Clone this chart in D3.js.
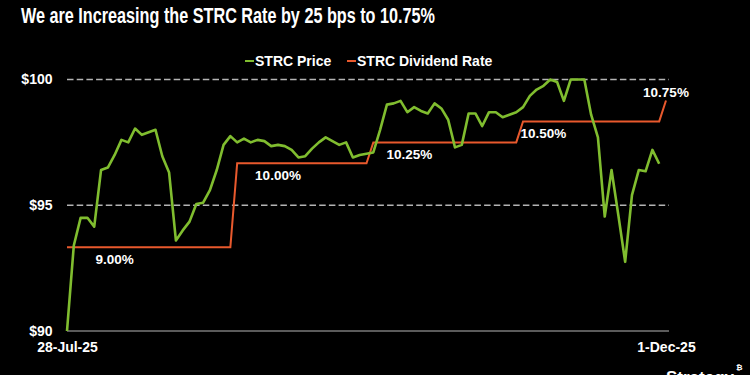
<!DOCTYPE html>
<html>
<head>
<meta charset="utf-8">
<script src="https://cdnjs.cloudflare.com/ajax/libs/d3/7.8.5/d3.min.js"></script>
<style>
body { margin: 0; background: #000; }
svg { display: block; font-family: "Liberation Sans", Arial, sans-serif; }
</style>
</head>
<body>
<div id="chart"></div>
<script>
// trading days, 28-Jul-25 .. 1-Dec-25
var days = [
  "2025-07-28","2025-07-29","2025-07-30","2025-07-31",
  "2025-08-01","2025-08-04","2025-08-05","2025-08-06","2025-08-07","2025-08-08","2025-08-11","2025-08-12","2025-08-13","2025-08-14","2025-08-15",
  "2025-08-18","2025-08-19","2025-08-20","2025-08-21","2025-08-22","2025-08-25","2025-08-26","2025-08-27","2025-08-28","2025-08-29",
  "2025-09-02","2025-09-03","2025-09-04","2025-09-05","2025-09-08","2025-09-09","2025-09-10","2025-09-11","2025-09-12","2025-09-15",
  "2025-09-16","2025-09-17","2025-09-18","2025-09-19","2025-09-22","2025-09-23","2025-09-24","2025-09-25","2025-09-26","2025-09-29","2025-09-30",
  "2025-10-01","2025-10-02","2025-10-03","2025-10-06","2025-10-07","2025-10-08","2025-10-09","2025-10-10","2025-10-13","2025-10-14","2025-10-15",
  "2025-10-16","2025-10-17","2025-10-20","2025-10-21","2025-10-22","2025-10-23","2025-10-24","2025-10-27","2025-10-28","2025-10-29","2025-10-30","2025-10-31",
  "2025-11-03","2025-11-04","2025-11-05","2025-11-06","2025-11-07","2025-11-10","2025-11-11","2025-11-12","2025-11-13","2025-11-14",
  "2025-11-17","2025-11-18","2025-11-19","2025-11-20","2025-11-21","2025-11-24","2025-11-25","2025-11-26","2025-11-28",
  "2025-12-01"
];

// STRC price, one per trading day (last day has no price)
var price = [
  90.0, 93.4, 94.5, 94.5, 94.15, 96.4, 96.5, 97.0, 97.6, 97.5,
  98.05, 97.8, 97.9, 98.0, 96.95, 96.3, 93.6, 94.0, 94.35, 95.05,
  95.1, 95.6, 96.4, 97.4, 97.75, 97.5, 97.65, 97.5, 97.6, 97.55,
  97.35, 97.4, 97.35, 97.2, 96.9, 96.95, 97.25, 97.5, 97.7, 97.55,
  97.4, 97.5, 96.9, 97.0, 97.05, 97.1, 98.0, 99.0, 99.05, 99.15,
  98.7, 98.9, 98.75, 98.65, 99.05, 98.85, 98.4, 97.3, 97.4, 98.65,
  98.65, 98.15, 98.7, 98.7, 98.5, 98.6, 98.7, 98.9, 99.35, 99.6,
  99.75, 100.0, 99.9, 99.15, 100.0, 100.0, 100.0, 98.6, 97.7, 94.55,
  96.4, 94.6, 92.75, 95.4, 96.4, 96.35, 97.2, 96.65
];

// dividend rate corners
var rateDays = ["2025-07-28","2025-08-29","2025-09-02","2025-09-29","2025-09-30","2025-10-29","2025-10-30","2025-11-28","2025-12-01"];
var rateValues = [9.00, 9.00, 10.00, 10.00, 10.25, 10.25, 10.50, 10.50, 10.75];

// rate labels
var labelText = ["9.00%", "10.00%", "10.25%", "10.50%", "10.75%"];
var labelDays = ["2025-08-06", "2025-09-10", "2025-10-07", "2025-11-04", "2025-12-01"];
var labelRates = [9.00, 10.00, 10.25, 10.50, 10.75];

var priceTicks = [90, 95, 100];
var gridTicks = [95, 100];

var green = "#80bd2f";
var orange = "#e8592d";

var W = 750, H = 375;
var margin = {top: 79.5, left: 67, bottom: 44, right: 81};
var width = W - margin.left - margin.right;   // 602
var height = H - margin.top - margin.bottom;  // 251.5

var svg = d3.select("#chart").append("svg")
  .attr("width", W)
  .attr("height", H)
  .style("background", "#000");

svg.append("text")
  .attr("x", 21)
  .attr("y", 23)
  .attr("fill", "#fff")
  .attr("font-size", 22.5)
  .attr("font-weight", "bold")
  .attr("textLength", 414)
  .attr("lengthAdjust", "spacingAndGlyphs")
  .text("We are Increasing the STRC Rate by 25 bps to 10.75%");

var g = svg.append("g")
  .attr("transform", "translate(" + margin.left + "," + margin.top + ")");

var x = d3.scalePoint().domain(days).range([0, width - 3]);
var y = d3.scaleLinear().domain([90, 100]).range([height, 0]);
var yRate = d3.scaleLinear().domain([8, 11]).range([height, 0]);

// dashed gridlines
g.selectAll(".grid")
  .data(gridTicks)
  .enter().append("line")
  .attr("x1", 0)
  .attr("x2", width)
  .attr("y1", function (d) { return y(d); })
  .attr("y2", function (d) { return y(d); })
  .attr("stroke", "#b4b4b4")
  .attr("stroke-width", 1.5)
  .attr("stroke-dasharray", "6.5,3.2");

// x axis
var xAxis = g.append("g")
  .attr("transform", "translate(0," + height + ")")
  .call(d3.axisBottom(x)
    .tickValues([days[0], days[days.length - 1]])
    .tickSize(0)
    .tickPadding(11.5)
    .tickFormat(function (d) { return d3.timeFormat("%-d-%b-%y")(d3.timeParse("%Y-%m-%d")(d)); }));
xAxis.select(".domain").remove();
xAxis.selectAll("text")
  .attr("fill", "#fff")
  .attr("font-size", 14)
  .attr("font-weight", "bold")
  .attr("font-family", "Liberation Sans, Arial, sans-serif");

g.append("line")
  .attr("x1", 0)
  .attr("x2", width)
  .attr("y1", height)
  .attr("y2", height)
  .attr("stroke", "#7a7a7a")
  .attr("stroke-width", 1.5);

// y axis
var yAxis = g.append("g")
  .call(d3.axisLeft(y)
    .tickValues(priceTicks)
    .tickSize(0)
    .tickPadding(14.5)
    .tickFormat(function (d) { return "$" + d; }));
yAxis.select(".domain").remove();
yAxis.selectAll("text")
  .attr("fill", "#fff")
  .attr("font-size", 14)
  .attr("font-weight", "bold")
  .attr("font-family", "Liberation Sans, Arial, sans-serif");

// dividend rate line
var rateLine = d3.line()
  .x(function (d, i) { return x(rateDays[i]); })
  .y(function (d) { return yRate(d); });

g.append("path")
  .datum(rateValues)
  .attr("d", rateLine)
  .attr("fill", "none")
  .attr("stroke", orange)
  .attr("stroke-width", 2);

// price line
var priceLine = d3.line()
  .x(function (d, i) { return x(days[i]); })
  .y(function (d) { return y(d); });

g.append("path")
  .datum(price)
  .attr("d", priceLine)
  .attr("fill", "none")
  .attr("stroke", green)
  .attr("stroke-width", 2.6)
  .attr("stroke-linejoin", "round");

// rate labels
g.selectAll(".rlabel")
  .data(labelText)
  .enter().append("text")
  .attr("x", function (d, i) { return x(labelDays[i]) + (i === 2 ? 2 : 0); })
  .attr("y", function (d, i) { return yRate(labelRates[i]) + (i === 4 ? -8 : 12.5); })
  .attr("text-anchor", "middle")
  .attr("dominant-baseline", "central")
  .attr("fill", "#fff")
  .attr("font-size", 13.5)
  .attr("font-weight", "bold")
  .text(function (d) { return d; });

// legend
var legend = [
  {name: "STRC Price", color: green, x: 245},
  {name: "STRC Dividend Rate", color: orange, x: 347}
];
var lg = svg.selectAll(".legend")
  .data(legend)
  .enter().append("g")
  .attr("transform", function (d) { return "translate(" + d.x + ",61)"; });
lg.append("line")
  .attr("x1", 0).attr("x2", 9)
  .attr("stroke", function (d) { return d.color; })
  .attr("stroke-width", 2);
lg.append("text")
  .attr("x", 10)
  .attr("dy", "0.35em")
  .attr("fill", "#fff")
  .attr("font-size", 14)
  .attr("font-weight", "bold")
  .text(function (d) { return d.name; });

// logo, cut off at the bottom edge as in the slide
svg.append("text")
  .attr("x", 666)
  .attr("y", 383)
  .attr("fill", "#fff")
  .attr("font-size", 17)
  .attr("font-weight", "bold")
  .text("Strategy");
svg.append("text")
  .attr("x", 736)
  .attr("y", 370)
  .attr("fill", "#fff")
  .attr("font-size", 8)
  .attr("font-weight", "bold")
  .text("₿");
</script>
</body>
</html>
